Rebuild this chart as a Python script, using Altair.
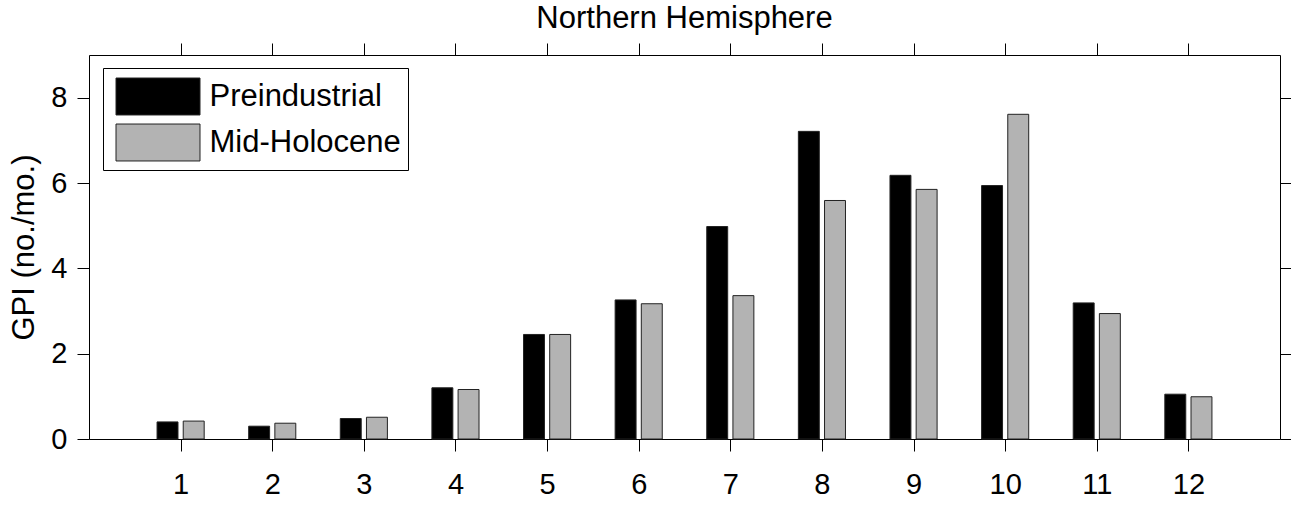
import altair as alt
import pandas as pd

months = list(range(1, 13))
preindustrial = [0.40, 0.30, 0.48, 1.20, 2.45, 3.26, 4.98, 7.21, 6.18, 5.94, 3.19, 1.05]
mid_holocene = [0.42, 0.37, 0.51, 1.16, 2.45, 3.17, 3.36, 5.59, 5.85, 7.61, 2.94, 0.99]
series_names = ["Preindustrial", "Mid-Holocene"]
series_offsets = [-1 / 7, 1 / 7]
bar_width = 0.8 * 2 / 7

rows = []
for name, off, vals in zip(series_names, series_offsets, [preindustrial, mid_holocene]):
    for m, v in zip(months, vals):
        rows.append({"month": m, "series": name, "value": v, "offset": off})
df = pd.DataFrame(rows)

FONT = "Liberation Sans"
W, H = 1191, 384
xscale = alt.Scale(domain=[0, 13], nice=False, zero=False)
yscale = alt.Scale(domain=[0, 9], nice=False)

bars = alt.Chart(df).transform_calculate(
    x1=f"datum.month + datum.offset - {bar_width / 2}",
    x2=f"datum.month + datum.offset + {bar_width / 2}",
).mark_bar(stroke="#222222", strokeWidth=1).encode(
    x=alt.X("x1:Q", scale=xscale,
            axis=alt.Axis(values=months, title=None, orient="bottom", labelFontSize=29,
                          labelFont=FONT, labelColor="black", labelPadding=19,
                          tickSize=12, tickColor="black", domainColor="black",
                          grid=False, format="d")),
    x2="x2:Q",
    y=alt.Y("value:Q", scale=yscale,
            axis=alt.Axis(values=[0, 2, 4, 6, 8], title="GPI (no./mo.)", orient="left",
                          labelFontSize=29, labelFont=FONT, labelColor="black",
                          labelPadding=10, tickSize=12, tickColor="black",
                          domainColor="black", grid=False, titleFont=FONT,
                          titleFontSize=31, titleFontWeight="normal", titleColor="black",
                          titlePadding=10)),
    y2=alt.datum(0),
    color=alt.Color("series:N",
                    scale=alt.Scale(domain=series_names, range=["#000000", "#b3b3b3"]),
                    legend=alt.Legend(title=None, orient="none", legendX=14, legendY=13,
                                      symbolType="M-2,-0.88L2,-0.88L2,0.88L-2,0.88Z",
                                      symbolSize=1764, symbolStrokeColor="#222222",
                                      symbolStrokeWidth=1, symbolOpacity=1,
                                      symbolOffset=26.5,
                                      labelFont=FONT, labelFontSize=31, labelColor="black",
                                      labelOffset=30, rowPadding=4, padding=7,
                                      strokeColor="black", fillColor="white",
                                      labelLimit=400)),
)

frame = alt.Chart(df).mark_point(opacity=0).encode(
    x=alt.X("month:Q", scale=xscale,
            axis=alt.Axis(values=months, orient="top", labels=False, title=None,
                          tickSize=12, tickColor="black", domainColor="black", grid=False)),
    y=alt.Y("value:Q", scale=yscale,
            axis=alt.Axis(values=[0, 2, 4, 6, 8], orient="right", labels=False, title=None,
                          tickSize=12, tickColor="black", domainColor="black", grid=False)),
)

chart = alt.layer(bars, frame).resolve_scale(x="independent", y="independent").properties(
    width=W, height=H,
    title=alt.TitleParams("Northern Hemisphere", font=FONT, fontSize=31,
                          fontWeight="normal", color="black", offset=8),
    autosize=alt.AutoSizeParams(type="none"),
    padding={"left": 89, "top": 55, "right": 11, "bottom": 66},
).configure_view(stroke="black", strokeWidth=1).configure(background="white")

chart.save("out.html", embed_options={"renderer": "svg", "actions": False})
